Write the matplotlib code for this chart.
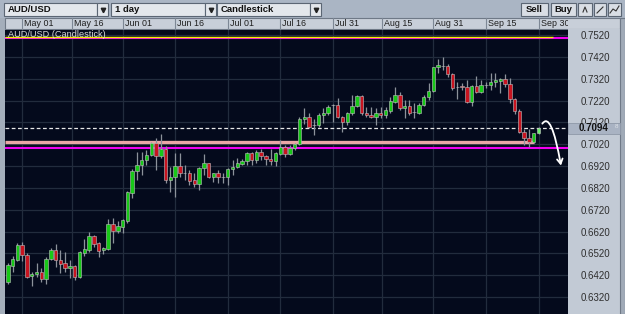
import numpy as np
import pandas as pd
import matplotlib
matplotlib.use('Agg')
import matplotlib.pyplot as plt
from matplotlib.patches import Rectangle
from matplotlib.transforms import blended_transform_factory, Bbox, TransformedBbox

plt.rcParams['font.family'] = ['Liberation Sans', 'DejaVu Sans']

# AUD/USD daily candles
opens = [0.6389, 0.6462, 0.6490, 0.6558, 0.6512, 0.6416, 0.6425, 0.6435, 0.6402, 0.6494,
         0.6535, 0.6490, 0.6476, 0.6453, 0.6462, 0.6412, 0.6522, 0.6535, 0.6599, 0.6567,
         0.6535, 0.6540, 0.6654, 0.6622, 0.6641, 0.6668, 0.6796, 0.6897, 0.6925, 0.6947,
         0.6970, 0.7025, 0.6966, 0.6998, 0.6856, 0.6870, 0.6920, 0.6888, 0.6888, 0.6856,
         0.6838, 0.6911, 0.6934, 0.6870, 0.6888, 0.6870, 0.6870, 0.6906, 0.6915, 0.6929,
         0.6943, 0.6980, 0.6947, 0.6984, 0.6966, 0.6952, 0.6943, 0.6975, 0.7007, 0.6975,
         0.7002, 0.7021, 0.7135, 0.7144, 0.7108, 0.7108, 0.7154, 0.7163, 0.7199, 0.7199,
         0.7144, 0.7122, 0.7163, 0.7195, 0.7241, 0.7163, 0.7154, 0.7144, 0.7163, 0.7154,
         0.7172, 0.7213, 0.7245, 0.7186, 0.7195, 0.7167, 0.7163, 0.7199, 0.7236, 0.7264,
         0.7373, 0.7378, 0.7378, 0.7341, 0.7280, 0.7286, 0.7282, 0.7213, 0.7286, 0.7259,
         0.7291, 0.7291, 0.7305, 0.7309, 0.7318, 0.7296, 0.7227, 0.7172, 0.7076, 0.7048,
         0.7030, 0.7071]
highs = [0.6476, 0.6508, 0.6567, 0.6572, 0.6522, 0.6435, 0.6476, 0.6453, 0.6503, 0.6544,
         0.6563, 0.6535, 0.6526, 0.6490, 0.6467, 0.6531, 0.6586, 0.6618, 0.6604, 0.6570,
         0.6549, 0.6677, 0.6682, 0.6668, 0.6677, 0.6806, 0.6906, 0.6984, 0.6984, 0.6993,
         0.7030, 0.7048, 0.7067, 0.7012, 0.6915, 0.6980, 0.6980, 0.6925, 0.6902, 0.6888,
         0.6915, 0.6975, 0.6936, 0.6890, 0.6902, 0.6888, 0.6911, 0.6947, 0.6957, 0.6952,
         0.6984, 0.6984, 0.6993, 0.6998, 0.6970, 0.6998, 0.6982, 0.7039, 0.7016, 0.7016,
         0.7025, 0.7144, 0.7186, 0.7163, 0.7135, 0.7163, 0.7186, 0.7199, 0.7204, 0.7231,
         0.7149, 0.7167, 0.7245, 0.7245, 0.7245, 0.7190, 0.7190, 0.7186, 0.7190, 0.7190,
         0.7236, 0.7282, 0.7259, 0.7222, 0.7222, 0.7209, 0.7209, 0.7245, 0.7300, 0.7373,
         0.7410, 0.7419, 0.7387, 0.7346, 0.7305, 0.7300, 0.7314, 0.7291, 0.7332, 0.7314,
         0.7305, 0.7346, 0.7346, 0.7323, 0.7341, 0.7323, 0.7231, 0.7181, 0.7090, 0.7090,
         0.7071, 0.7099]
lows = [0.6380, 0.6435, 0.6485, 0.6485, 0.6407, 0.6370, 0.6412, 0.6389, 0.6380, 0.6490,
        0.6457, 0.6430, 0.6435, 0.6407, 0.6398, 0.6407, 0.6508, 0.6526, 0.6549, 0.6503,
        0.6517, 0.6535, 0.6567, 0.6613, 0.6613, 0.6659, 0.6773, 0.6856, 0.6879, 0.6925,
        0.6966, 0.6902, 0.6957, 0.6842, 0.6801, 0.6778, 0.6870, 0.6856, 0.6833, 0.6824,
        0.6810, 0.6879, 0.6865, 0.6847, 0.6842, 0.6842, 0.6833, 0.6879, 0.6911, 0.6925,
        0.6925, 0.6925, 0.6934, 0.6947, 0.6925, 0.6925, 0.6920, 0.6970, 0.6961, 0.6970,
        0.6993, 0.7016, 0.7112, 0.7094, 0.7062, 0.7099, 0.7117, 0.7154, 0.7122, 0.7140,
        0.7076, 0.7108, 0.7154, 0.7190, 0.7154, 0.7144, 0.7140, 0.7108, 0.7140, 0.7140,
        0.7163, 0.7209, 0.7177, 0.7140, 0.7154, 0.7140, 0.7158, 0.7195, 0.7222, 0.7259,
        0.7346, 0.7360, 0.7328, 0.7268, 0.7227, 0.7268, 0.7209, 0.7195, 0.7254, 0.7254,
        0.7277, 0.7268, 0.7282, 0.7254, 0.7282, 0.7209, 0.7158, 0.7071, 0.7016, 0.7007,
        0.7025, 0.7067]
closes = [0.6467, 0.6494, 0.6558, 0.6512, 0.6412, 0.6425, 0.6435, 0.6402, 0.6494, 0.6535,
          0.6490, 0.6471, 0.6453, 0.6462, 0.6412, 0.6526, 0.6540, 0.6599, 0.6563, 0.6531,
          0.6544, 0.6654, 0.6622, 0.6645, 0.6673, 0.6801, 0.6897, 0.6925, 0.6947, 0.6970,
          0.7025, 0.6966, 0.6998, 0.6856, 0.6870, 0.6920, 0.6888, 0.6890, 0.6851, 0.6838,
          0.6911, 0.6934, 0.6870, 0.6888, 0.6870, 0.6871, 0.6906, 0.6915, 0.6934, 0.6943,
          0.6980, 0.6947, 0.6984, 0.6966, 0.6952, 0.6943, 0.6980, 0.7007, 0.6975, 0.7002,
          0.7021, 0.7135, 0.7144, 0.7099, 0.7109, 0.7154, 0.7163, 0.7190, 0.7199, 0.7144,
          0.7122, 0.7163, 0.7195, 0.7241, 0.7163, 0.7154, 0.7144, 0.7163, 0.7154, 0.7177,
          0.7218, 0.7245, 0.7186, 0.7195, 0.7163, 0.7168, 0.7199, 0.7236, 0.7264, 0.7373,
          0.7383, 0.7379, 0.7341, 0.7277, 0.7280, 0.7282, 0.7213, 0.7286, 0.7259, 0.7291,
          0.7291, 0.7305, 0.7314, 0.7318, 0.7296, 0.7227, 0.7172, 0.7076, 0.7048, 0.7030,
          0.7071, 0.7094]
dates = pd.bdate_range('2020-04-28', periods=len(opens))

date_labels = ['May 01', 'May 16', 'Jun 01', 'Jun 16', 'Jul 01', 'Jul 16',
               'Jul 31', 'Aug 15', 'Aug 31', 'Sep 15', 'Sep 30']
label_dates = pd.to_datetime(['2020-05-01', '2020-05-16', '2020-06-01', '2020-06-16',
                              '2020-07-01', '2020-07-16', '2020-07-31', '2020-08-15',
                              '2020-08-31', '2020-09-15', '2020-09-30'])
price_ticks = [0.6320, 0.6420, 0.6520, 0.6620, 0.6720, 0.6820, 0.6920,
               0.7020, 0.7120, 0.7220, 0.7320, 0.7420, 0.7520]

yellow_level = 0.7513
top_magenta_level = 0.7504
pink_level = 0.7031
magenta_level = 0.7001
last_price = 0.7094

W, H = 625, 314
fig = plt.figure(figsize=(W / 100, H / 100), dpi=100)
fig.patch.set_facecolor('#b4bec9')

# --- window chrome, in pixel coordinates (y down) ---
ui = fig.add_axes([0, 0, 1, 1], zorder=0)
ui.set_xlim(0, W)
ui.set_ylim(H, 0)
ui.axis('off')

def box(x, y, w, h, fc, ec='none', lw=0.8):
    ui.add_patch(Rectangle((x, y), w, h, facecolor=fc, edgecolor=ec, linewidth=lw))

box(0, 0, W, 18, '#aab5c4')
box(0, 18, 5, H - 18, '#a4aebb')
box(5, 18, 615, 11, '#c8cfd9', '#6f7987')
box(568, 29, 52, H - 29, '#c2cad5')
box(620, 18, 5, H - 18, '#a0aab7', '#6f7987')

for (x, w, txt), (ax_, aw) in zip([(4, 93, 'AUD/USD'), (111, 94, '1 day'), (217, 93, 'Candlestick')],
                                  [(97, 11), (205, 11), (310, 11)]):
    box(x, 3, w, 13, '#e3e7ec', '#5b6674')
    box(ax_, 3, aw, 13, '#e3e7ec', '#5b6674')
    ui.text(x + 4, 9.8, txt, fontsize=6.8, fontweight='bold', color='#111111', va='center', ha='left')
    ui.plot(ax_ + aw / 2, 9.5, marker='v', markersize=3.2, color='#222222')

for x, w, txt in [(521, 27, 'Sell'), (551, 25, 'Buy')]:
    box(x, 3, w, 13, '#d9dee5', '#5b6674')
    ui.text(x + w / 2, 9.8, txt, fontsize=6.8, fontweight='bold', color='#111111', va='center', ha='center')
for x, w in [(578, 14), (594, 12), (608, 13)]:
    box(x, 3, w, 13, '#d9dee5', '#5b6674')
ui.plot([583, 585, 587], [12, 7, 12], color='#333333', lw=0.8)
ui.plot([597, 603], [13, 7], color='#333333', lw=0.8)
ui.plot([610, 613, 616, 619], [13, 9, 11, 6], color='#333333', lw=0.8)

# --- chart ---
ax = fig.add_axes([5 / W, 0, 563 / W, (H - 30) / H], zorder=1)
ax.set_facecolor('#040a1c')
for s in ax.spines.values():
    s.set_visible(False)

x = np.arange(len(opens))
o = np.array(opens)
c = np.array(closes)
ax.set_xlim(-0.59, 117.17)
ax.set_ylim(0.62422, 0.75429)

ax.set_yticks(price_ticks)
ax.yaxis.tick_right()
ax.yaxis.set_major_formatter(matplotlib.ticker.FormatStrFormatter('%.4f'))
ax.tick_params(axis='y', length=0, pad=9, labelsize=7, labelcolor='#2e2e2e')
ax.set_xticks([])
ax.grid(axis='y', color='#222c3d', lw=0.9)
ax.set_axisbelow(True)

# date grid lines and header labels
grid_pos = np.interp(label_dates.values.astype('int64'), dates.values.astype('int64'), x)
for gx in grid_pos:
    ax.axvline(gx, color='#222c3d', lw=0.9, zorder=0.5)
hdr = blended_transform_factory(ax.transData, fig.transFigure)
clip = TransformedBbox(Bbox.from_extents(5 / W, (H - 29) / H, 568 / W, (H - 18) / H), fig.transFigure)
for gx, lab in zip(grid_pos, date_labels):
    ax.plot([gx, gx], [(H - 29) / H, (H - 18) / H], transform=hdr, color='#7d8795', lw=0.8, clip_on=False)
    t = ax.text(gx + 0.45, (H - 23.8) / H, lab, transform=hdr, fontsize=6.4, color='#1e1e1e',
                va='center', ha='left', clip_on=True)
    t.set_clip_box(clip)

# level lines
ax.axhline(top_magenta_level, color='#f000f0', lw=1.5, zorder=3)
ax.hlines(yellow_level, -0.59, 114.0, color='#f0f000', lw=1.0, zorder=3.5)
ax.hlines(pink_level, -0.59, 110.0, color='#eaa6a6', lw=2.4, zorder=3)
ax.axhline(magenta_level, color='#f000f0', lw=1.5, zorder=3)
ax.axhline(last_price, color='#e8e8e8', lw=0.9, ls=(0, (3, 2)), zorder=3)

# candles
small = np.abs(c - o) < 0.00025
colors = np.where(small, '#c8c8c8', np.where(c >= o, '#18c818', '#c81420')).tolist()
colors[-1] = '#6af06a'
ax.vlines(x, lows, highs, color='#8c929b', lw=0.9, zorder=4)
ax.bar(x, np.maximum(np.abs(c - o), 0.00018), bottom=np.minimum(o, c), width=0.72,
       color=colors, edgecolor='#c0c0c0', linewidth=0.4, zorder=5)

ax.text(0.06, 0.7522, 'AUD/USD (Candlestick)', fontsize=6.6, color='#d8d8d8', va='center', ha='left', zorder=6)

# hand-drawn arrow
ax.annotate('', xy=(115.7, 0.6922), xytext=(111.8, 0.7114),
            arrowprops=dict(arrowstyle='->,head_length=0.35,head_width=0.2', color='white', lw=1.3,
                            shrinkA=0, shrinkB=0, connectionstyle='angle3,angleA=55,angleB=100'),
            annotation_clip=False, zorder=7)

# current price box on the axis
top = fig.add_axes([0, 0, 1, 1], zorder=2)
top.set_xlim(0, W)
top.set_ylim(H, 0)
top.axis('off')
top.add_patch(Rectangle((568, 122.5), 52, 11, facecolor='#a9b3c3', edgecolor='#8e98a8', lw=0.6))
top.text(594, 128.3, f'{last_price:.4f}', fontsize=7, fontweight='bold', color='#111111',
         va='center', ha='center')
top.text(614.5, 126.3, '8', fontsize=4.5, color='#dde2e8', va='center', ha='left')

fig.savefig('out.png', dpi=100, facecolor=fig.get_facecolor())
